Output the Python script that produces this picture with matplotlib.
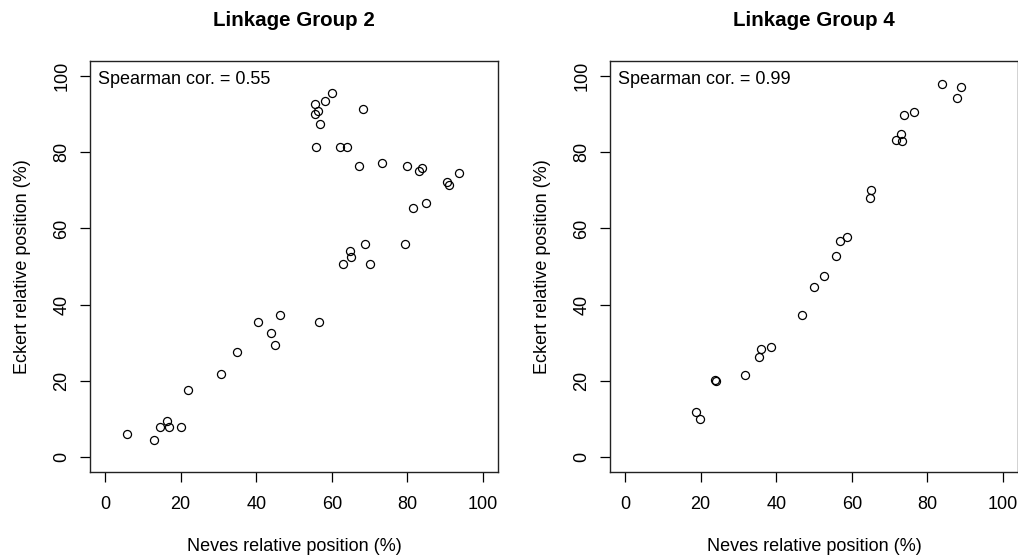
import matplotlib
matplotlib.use("Agg")
import matplotlib.pyplot as plt

plt.rcParams['font.family'] = ['Liberation Sans', 'DejaVu Sans']

# Linkage Group 2
lg2_neves = [5.8, 12.9, 14.4, 16.3, 17.0, 20.1, 22.0, 30.7, 34.8, 40.4,
             43.8, 46.2, 44.9, 56.6, 63.1, 64.7, 65.0, 68.8, 70.1, 79.4,
             81.5, 85.0, 90.6, 91.1, 93.8, 79.8, 83.0, 83.9, 73.3, 67.2,
             62.2, 64.0, 55.8, 56.8, 55.5, 56.4, 55.6, 58.3, 60.1, 68.2]
lg2_eckert = [6.0, 4.5, 7.7, 9.3, 7.7, 7.7, 17.6, 21.8, 27.6, 35.3,
              32.6, 37.2, 29.3, 35.3, 50.6, 54.1, 52.6, 55.9, 50.6, 55.9,
              65.3, 66.8, 72.1, 71.4, 74.6, 76.3, 75.0, 76.0, 77.3, 76.3,
              81.3, 81.3, 81.4, 87.5, 90.2, 90.9, 92.8, 93.4, 95.5, 91.4]

# Linkage Group 4
lg4_neves = [83.8, 89.0, 87.8, 76.5, 73.8, 73.1, 71.6, 73.4, 65.1, 64.7,
             58.8, 57.0, 55.7, 52.7, 49.9, 46.9, 38.5, 35.9, 35.5, 31.8,
             23.8, 24.0, 18.7, 19.9]
lg4_eckert = [97.9, 97.1, 94.4, 90.5, 89.7, 84.7, 83.3, 82.9, 70.1, 68.1,
              57.7, 56.7, 52.8, 47.4, 44.5, 37.2, 28.9, 28.4, 26.1, 21.6,
              20.1, 20.0, 11.7, 9.8]

titles = ["Linkage Group 2", "Linkage Group 4"]
cor_labels = ["Spearman cor. = 0.55", "Spearman cor. = 0.99"]
ticks = [0, 20, 40, 60, 80, 100]
xlabel = "Neves relative position (%)"
ylabel = "Eckert relative position (%)"

W, H = 1018, 555
fig = plt.figure(figsize=(W / 100, H / 100), dpi=100)

panels = [(lg2_neves, lg2_eckert, 90), (lg4_neves, lg4_eckert, 610)]
for i, (xs, ys, left_px) in enumerate(panels):
    ax = fig.add_axes([left_px / W, (H - 472) / H, 408 / W, 411 / H])
    ax.plot(xs, ys, linestyle='none', marker='o', markersize=5.8,
            markerfacecolor='none', markeredgecolor='black', markeredgewidth=0.9)
    ax.set_xlim(-4, 104)
    ax.set_ylim(-4, 104)
    ax.set_xticks(ticks)
    ax.set_yticks(ticks)
    ax.set_xticklabels([str(t) for t in ticks], fontsize=13)
    ax.set_yticklabels([str(t) for t in ticks], fontsize=13, rotation=90, va='center')
    ax.tick_params(axis='x', length=7.2, width=0.9, pad=10)
    ax.tick_params(axis='y', length=7.2, width=0.9, pad=7)
    for s in ax.spines.values():
        s.set_linewidth(1.0)
        s.set_color('#222222')
    ax.set_xlabel(xlabel, fontsize=13, labelpad=18)
    ax.set_ylabel(ylabel, fontsize=13, labelpad=16)
    ax.text(0.0196, 0.954, cor_labels[i], transform=ax.transAxes,
            fontsize=13, ha='left', va='center')
    ax.set_title(titles[i], fontsize=14.8, fontweight='bold', pad=25)

fig.savefig("out.png", dpi=100)
